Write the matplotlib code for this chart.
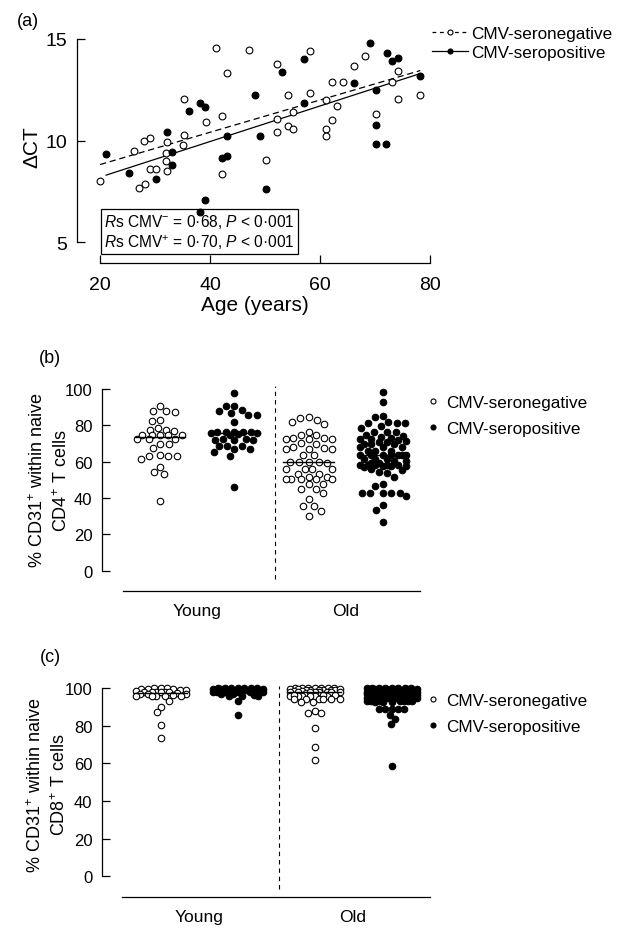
import numpy as np
import matplotlib
matplotlib.use("Agg")
import matplotlib.pyplot as plt
from matplotlib.lines import Line2D

plt.rcParams['font.family'] = ['Liberation Sans', 'DejaVu Sans']
plt.rcParams['mathtext.fontset'] = 'custom'
plt.rcParams['mathtext.rm'] = 'Liberation Sans'
plt.rcParams['mathtext.it'] = 'Liberation Sans:italic'
plt.rcParams['mathtext.default'] = 'rm'

## panel (a): age vs delta CT
neg_age = [20.0, 26.2, 28.0, 29.1, 27.1, 28.2, 29.0, 30.1, 32.1, 32.0, 32.0, 32.1,
           35.2, 35.2, 35.0, 39.2, 42.1, 42.1, 41.0, 43.0, 47.1, 52.1, 58.1, 54.1,
           58.1, 62.1, 64.1, 66.2, 68.1, 74.2, 73.1, 74.2, 78.2, 61.1, 63.1, 55.1,
           52.1, 54.1, 55.1, 52.1, 62.1, 61.1, 61.1, 70.1, 50.1]
neg_dct = [8.02, 9.5, 10.0, 10.1, 7.66, 7.84, 8.58, 8.6, 9.94, 9.37, 8.97, 8.5,
           12.04, 10.29, 9.8, 10.9, 11.2, 8.33, 14.56, 13.34, 14.47, 13.78, 14.39, 12.23,
           12.34, 12.9, 12.9, 13.68, 14.15, 13.41, 12.87, 12.04, 12.24, 12.01, 11.68, 11.4,
           11.04, 10.73, 10.57, 10.43, 11.0, 10.57, 10.24, 11.3, 9.05]
pos_age = [21.1, 25.2, 30.1, 32.1, 33.1, 33.1, 36.1, 38.1, 39.1, 39.1, 38.2, 43.0,
           42.1, 43.0, 48.1, 49.1, 53.0, 57.1, 69.1, 72.1, 73.1, 74.2, 78.2, 66.1,
           70.1, 57.1, 70.1, 70.1, 72.0, 50.1]
pos_dct = [9.35, 8.41, 8.1, 10.4, 9.45, 8.79, 11.47, 11.83, 11.65, 7.08, 6.46, 10.2,
           9.12, 9.25, 12.24, 10.2, 13.39, 14.0, 14.79, 14.31, 13.9, 14.06, 13.19, 12.83,
           12.49, 11.83, 10.75, 9.84, 9.84, 7.61]
stats_text = [r"$\it{R}$s CMV$^{-}$ = 0·68, $\it{P}$ < 0·001",
              r"$\it{R}$s CMV$^{+}$ = 0·70, $\it{P}$ < 0·001"]

## panel (b): % CD31+ within naive CD4+ T cells
cd4_young_neg = [90.8, 87.7, 87.5, 87.9, 83.0, 82.2, 77.5, 77.0, 77.2, 78.5, 74.7, 74.6,
                 74.5, 74.5, 74.6, 72.5, 72.4, 72.6, 69.7, 69.8, 67.3, 63.0, 63.1, 62.9,
                 63.7, 61.5, 57.2, 54.1, 53.2, 38.2]
cd4_young_pos = [97.6, 90.8, 90.6, 88.6, 87.7, 85.7, 85.6, 86.6, 82.0, 76.5, 76.4, 76.6,
                 76.5, 76.0, 76.1, 75.9, 75.2, 74.7, 72.1, 72.0, 72.2, 72.5, 72.4, 68.8,
                 68.7, 68.9, 67.0, 67.1, 65.1, 62.9, 45.9]
cd4_old_neg = [83.9, 82.0, 82.9, 84.4, 80.7, 76.5, 74.7, 74.6, 72.8, 72.9, 72.5, 72.4,
               72.6, 70.0, 70.1, 67.8, 67.9, 67.0, 67.1, 66.9, 63.7, 63.6, 59.6, 59.6,
               59.5, 59.7, 59.6, 56.0, 56.1, 55.9, 56.0, 53.2, 53.1, 51.7, 51.8, 50.5,
               50.4, 50.6, 50.5, 50.5, 47.7, 47.6, 45.0, 45.1, 43.0, 39.4, 35.8, 35.7,
               33.0, 30.3]
cd4_old_pos = [98.2, 93.0, 85.3, 84.4, 81.5, 81.4, 81.6, 81.5, 78.5, 79.4,
               76.5, 76.4, 76.6,
               74.5, 74.0, 73.5, 73.0, 72.5, 72.6, 72.0, 71.5, 71.0, 71.1,
               69.7, 69.8, 69.6, 60.5, 60.4, 59.5, 59.4, 68.0, 68.1, 67.9,
               66.0, 66.1, 65.9, 55.5, 56.0,
               63.7, 63.6, 63.8, 63.7, 63.7, 63.6, 63.8,
               61.5, 61.4, 61.6,
               58.0, 58.1, 57.9, 58.0, 58.2, 57.4, 57.3, 57.5, 57.4,
               54.1, 54.0, 51.7, 47.7, 46.8, 42.8, 42.7, 42.9, 42.8, 42.8, 41.3, 36.3,
               33.4, 26.6]

## panel (c): % CD31+ within naive CD8+ T cells
cd8_young_neg = [100.0, 100.0, 99.8, 100.0, 99.6, 99.3, 99.2, 99.4, 98.5, 98.0, 98.1,
                 97.9, 97.9, 97.8, 97.8, 97.5, 97.0, 97.1, 96.8, 96.1, 96.2, 96.0, 96.1,
                 96.1, 95.7, 93.4, 90.2, 87.2, 80.5, 73.8]
cd8_young_pos = [100.0, 100.0, 99.9, 100.0, 99.8, 100.0, 99.9, 100.0,
                 99.3, 99.2, 99.4, 99.3, 99.1, 99.3, 99.5, 99.2,
                 98.0, 98.1, 97.9, 98.0, 98.2, 97.8,
                 96.1, 96.0, 96.2, 96.1, 97.0, 97.1, 93.0, 85.8]
cd8_old_neg = [100.0, 100.0, 99.9, 100.0, 99.8, 100.0, 99.9, 100.0,
               99.3, 99.2, 99.4, 99.3, 99.1, 99.3, 99.5, 99.2,
               98.5, 98.4,
               97.9, 97.8, 98.0, 97.9, 97.7, 98.1, 97.9, 97.8, 98.0,
               96.1, 96.0, 96.2, 96.1, 96.3, 95.9, 96.1, 96.0, 96.2,
               94.3, 94.2, 94.4, 94.3, 94.1, 94.5,
               92.6, 92.5, 88.1, 86.9, 86.8, 78.7, 68.6, 62.1]
cd8_old_pos = [100.0, 99.9, 100.0, 99.8, 100.0, 99.9, 100.0, 99.7, 100.0, 99.9,
               99.3, 99.2, 99.4, 99.3, 99.1, 99.3, 99.5, 99.2, 99.4, 99.0,
               98.0, 98.1, 97.9, 98.0, 98.2, 97.8, 98.0, 97.9, 98.1, 98.0,
               96.6, 96.5, 96.7, 96.6, 96.4, 96.8, 96.6, 96.5, 96.7, 96.6, 96.3, 96.9,
               95.0, 95.1, 94.9, 95.0, 95.2, 94.8, 95.0, 95.1, 94.9, 95.0,
               93.0, 93.1, 92.9, 93.0, 93.2, 92.8, 93.0, 93.1, 92.9, 93.0,
               89.0, 89.2, 88.8, 89.1, 88.9, 85.8, 83.7, 81.0, 58.5]

groups = ["Young", "Old"]
legend_labels = ["CMV-seronegative", "CMV-seropositive"]


def swarm_offsets(values, px_per_y, diam, max_half):
    '''Beeswarm x offsets (pixels) so circles of diameter diam do not overlap.'''
    vals = np.asarray(values, float)
    ys = vals * px_per_y
    xs = np.zeros(len(vals))
    placed = []
    for i in np.argsort(-vals, kind="stable"):
        y = ys[i]
        near = [(px, py) for px, py in placed if abs(py - y) < diam]
        cands = [0.0]
        for px, py in near:
            dx = np.sqrt(diam ** 2 - (py - y) ** 2)
            cands += [px - dx, px + dx]
        cands = sorted(cands, key=lambda c: (abs(c), c))
        best = None
        for c in cands:
            if abs(c) > max_half + 1e-9:
                continue
            if all((c - px) ** 2 + (y - py) ** 2 >= diam ** 2 - 1e-6 for px, py in near):
                best = c
                break
        if best is None:
            grid = np.linspace(-max_half, max_half, 13)
            clear = [min((g - px) ** 2 + (y - py) ** 2 for px, py in near) for g in grid]
            best = grid[int(np.argmax(clear))]
        xs[i] = best
        placed.append((best, y))
    return xs


def style_axes(ax, fs):
    for s in ["top", "right"]:
        ax.spines[s].set_visible(False)
    for s in ["left", "bottom"]:
        ax.spines[s].set_linewidth(0.9)
    ax.tick_params(direction="in", length=6, width=0.9, labelsize=fs)


def dot_panel(ax, data, diam, max_half, dash_x, dash_y, leg_xy):
    ax.set_xlim(data["xlim"])
    ax.set_ylim(data["ylim"])
    style_axes(ax, 12)
    ax.spines["left"].set_bounds(0, 100)
    ax.spines["bottom"].set_bounds(0.5, 4.5)
    ax.set_yticks([0, 20, 40, 60, 80, 100])
    ax.set_xticks([1.5, 3.5])
    ax.set_xticklabels(groups, fontsize=12.5)
    ax.tick_params(axis="x", length=0, pad=9)
    ax.tick_params(axis="y", pad=7)

    t = ax.transData
    px_y = t.transform((0, 1))[1] - t.transform((0, 0))[1]
    px_x = t.transform((1, 0))[0] - t.transform((0, 0))[0]
    for k, vals in enumerate(data["sets"]):
        centre = k + 1
        filled = k % 2 == 1
        off = swarm_offsets(vals, px_y, diam, max_half) / px_x
        ax.scatter(centre + off, vals, s=22, marker="o",
                   facecolors="black" if filled else "white",
                   edgecolors="black", linewidths=0.8, zorder=3, clip_on=False)
        med = np.median(vals)
        ax.plot([centre - 0.34, centre + 0.34], [med, med], color="black", lw=1.0, zorder=4)
    ax.plot([dash_x, dash_x], dash_y, color="black", lw=0.8, dashes=(4, 3.5))

    handles = [Line2D([], [], ls="none", marker="o", ms=3.6, mfc="white", mec="black", mew=0.8),
               Line2D([], [], ls="none", marker="o", ms=3.6, mfc="black", mec="black", mew=0.8)]
    ax.legend(handles, legend_labels, loc="upper left", bbox_to_anchor=leg_xy,
              bbox_transform=ax.figure.transFigure, frameon=False, fontsize=12.3,
              handlelength=0.6, handletextpad=0.45, labelspacing=0.62,
              borderpad=0, borderaxespad=0)


W, H = 632, 929
fig = plt.figure(figsize=(W / 100, H / 100), dpi=100)


def px_axes(left, top, right, bottom):
    return fig.add_axes([left / W, 1 - bottom / H, (right - left) / W, (bottom - top) / H])


# ---- (a)
ax_a = px_axes(77, 35.9, 432.9, 264)
ax_a.set_xlim(15.8, 80.5)
ax_a.set_ylim(3.97, 15.2)
style_axes(ax_a, 14)
ax_a.spines["left"].set_bounds(5, 15)
ax_a.spines["bottom"].set_bounds(20, 80)
ax_a.set_xticks([20, 40, 60, 80])
ax_a.set_yticks([5, 10, 15])
ax_a.tick_params(axis="x", pad=9)
ax_a.tick_params(axis="y", pad=7)

ax_a.scatter(neg_age, neg_dct, s=24, facecolors="white", edgecolors="black",
             linewidths=0.8, zorder=3)
ax_a.scatter(pos_age, pos_dct, s=24, facecolors="black", edgecolors="black",
             linewidths=0.8, zorder=3)

for ages, vals, ls in [(neg_age, neg_dct, "--"), (pos_age, pos_dct, "-")]:
    slope, icpt = np.polyfit(ages, vals, 1)
    xx = np.array([min(ages), max(ages)])
    kw = dict(dashes=(5, 3)) if ls == "--" else {}
    ax_a.plot(xx, slope * xx + icpt, color="black", lw=0.9, zorder=2, **kw)

ax_a.text(20.75, 4.58, "\n".join(stats_text), fontsize=11.2, ha="left", va="bottom",
          linespacing=1.12, zorder=1,
          bbox=dict(boxstyle="square,pad=0.22", fc="white", ec="black", lw=0.9))

ax_a.set_xlabel("Age (years)", fontsize=15, labelpad=2)
fig.text(31.7 / W, 1 - 147.5 / H, "ΔCT", rotation=90, fontsize=15, ha="center", va="center")

h_a = [Line2D([], [], color="black", lw=0.9, dashes=(3, 3), marker="o", ms=3.6,
              mfc="white", mec="black", mew=0.8),
       Line2D([], [], color="black", lw=0.9, marker="o", ms=3.6,
              mfc="black", mec="black", mew=0.8)]
ax_a.legend(h_a, legend_labels, loc="upper left", bbox_to_anchor=(432 / W, 1 - 27 / H),
            bbox_transform=fig.transFigure, frameon=False, fontsize=12.3,
            handlelength=2.1, handletextpad=0.2, labelspacing=0.24,
            borderpad=0, borderaxespad=0)

# ---- (b)
ax_b = px_axes(102, 386.4, 420, 592)
dot_panel(ax_b, dict(xlim=(0.219, 4.5), ylim=(-11.2, 102),
                     sets=[cd4_young_neg, cd4_young_pos, cd4_old_neg, cd4_old_pos]),
          8.5, 23, 2.55, (-4.6, 101.6), (428 / W, 1 - 396 / H))

# ---- (c)
ax_c = px_axes(102, 685.5, 430, 898)
dot_panel(ax_c, dict(xlim=(0.24, 4.5), ylim=(-11, 102),
                     sets=[cd8_young_neg, cd8_young_pos, cd8_old_neg, cd8_old_pos]),
          6.5, 25, 2.54, (-6.8, 101.4), (428 / W, 1 - 694 / H))

# two-line y labels, one text per line
for (x1, x2, yc), cell in [((38, 62, 480.5), "CD4"), ((36, 60, 785), "CD8")]:
    fig.text(x1 / W, 1 - yc / H, "% CD31$^{+}$ within naive", rotation=90,
             fontsize=13, ha="center", va="center")
    fig.text(x2 / W, 1 - yc / H, cell + "$^{+}$ T cells", rotation=90,
             fontsize=13, ha="center", va="center")

fig.text(27.5 / W, 1 - 21.5 / H, "(a)", fontsize=13, ha="center", va="center")
fig.text(50 / W, 1 - 359 / H, "(b)", fontsize=13, ha="center", va="center")
fig.text(50 / W, 1 - 658 / H, "(c)", fontsize=13, ha="center", va="center")

fig.savefig("out.png", dpi=100)
